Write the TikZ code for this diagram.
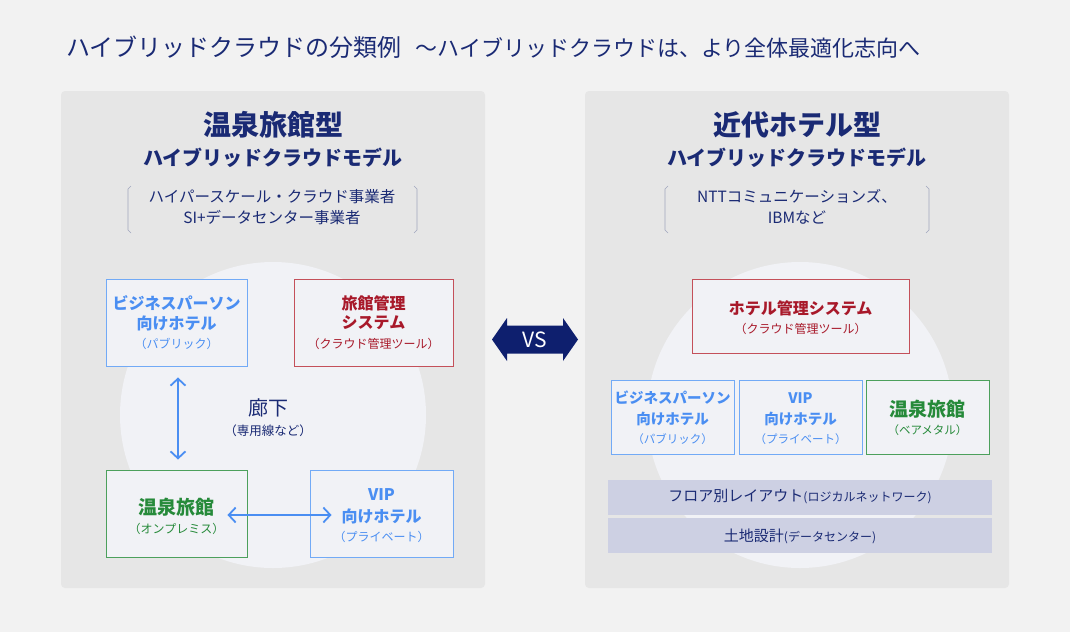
\documentclass[tikz,border=0pt]{standalone}
\usepackage{fontspec}
\setmainfont{Noto Sans CJK JP}
\usetikzlibrary{arrows.meta}
\definecolor{bg}{HTML}{F2F2F2}
\definecolor{panel}{HTML}{E6E6E6}
\definecolor{circ}{HTML}{F1F2F6}
\definecolor{navy}{HTML}{1A2A74}
\definecolor{bblue}{HTML}{72AAF6}
\definecolor{tblue}{HTML}{4A8EF2}
\definecolor{bred}{HTML}{C4505A}
\definecolor{tred}{HTML}{A8192A}
\definecolor{bgreen}{HTML}{4CA05C}
\definecolor{tgreen}{HTML}{268A3A}
\definecolor{band}{HTML}{CDD0E3}
\definecolor{vsnavy}{HTML}{0E1F6E}
\definecolor{brk}{HTML}{A0A6BE}
\newcommand\fsz[2]{\fontsize{#1}{#2}\selectfont}
\begin{document}
\begin{tikzpicture}[x=1pt,y=-1pt,
  txt/.style={inner sep=0pt, text=navy},
  boxbase/.style={draw, fill=circ, line width=0.9pt, inner sep=0pt},
  bluebox/.style={boxbase, draw=bblue},
  redbox/.style={boxbase, draw=bred},
  greenbox/.style={boxbase, draw=bgreen},
  bandbox/.style={fill=band, inner sep=0pt, minimum width=384pt, minimum height=35pt},
  arr/.style={draw=tblue, line width=1.8pt, {Straight Barb[length=7pt,width=15pt]}-{Straight Barb[length=7pt,width=15pt]}},
  brack/.style={draw=brk, line width=0.6pt},
  main/.style={inner sep=0pt, font=\bfseries\fsz{16}{18}},
  mainr/.style={inner sep=0pt, font=\bfseries\fsz{14.5}{17}},
  big/.style={inner sep=0pt, font=\bfseries\fsz{19}{21}},
  sub/.style={inner sep=0pt, font=\fsz{12}{14}},
  subr/.style={inner sep=0pt, font=\fsz{11.5}{14}}
]
\useasboundingbox (0,0) rectangle (1070,632);
\fill[bg] (0,0) rectangle (1070,632);
% panels
\fill[panel, rounded corners=4pt] (61,91) rectangle (485,588);
\fill[panel, rounded corners=4pt] (585,91) rectangle (1009,588);
\fill[circ] (273,415) circle (153pt);
\fill[circ] (800,415) circle (153pt);

% title
\node[txt, anchor=west] (title) at (66,47) {\fsz{24}{26}ハイブリッドクラウドの分類例\hspace{14pt}\fsz{22}{26}〜ハイブリッドクラウドは、より全体最適化志向へ};

% left headings
\node[txt] (lt1) at (273,125) {\bfseries\fsz{28}{30}温泉旅館型};
\node[txt] (lt2) at (273,158) {\bfseries\fsz{20}{22}ハイブリッドクラウドモデル};
\node[txt, align=center, font=\fsz{15.5}{21}] (lsub) at (272,207) {ハイパースケール・クラウド事業者\\SI+データセンター事業者};
\draw[brack] (131,186) -- (128,189) -- (128,230) -- (131,233);
\draw[brack] (414,186) -- (417,189) -- (417,230) -- (414,233);

% right headings
\node[txt] (rt1) at (797,125) {\bfseries\fsz{28}{30}近代ホテル型};
\node[txt] (rt2) at (797,158) {\bfseries\fsz{20}{22}ハイブリッドクラウドモデル};
\node[txt, align=center, font=\fsz{15.5}{21}] (rsub) at (797,207) {NTTコミュニケーションズ、\\IBMなど};
\draw[brack] (668,186) -- (665,189) -- (665,230) -- (668,233);
\draw[brack] (926,186) -- (929,189) -- (929,230) -- (926,233);

% left boxes
\node[bluebox, minimum width=141pt, minimum height=87pt] (b1) at (176.5,322.5) {};
\node[main, text=tblue] (b1a) at (176.5,303) {ビジネスパーソン};
\node[main, text=tblue] (b1b) at (176.5,323) {向けホテル};
\node[sub, text=tblue] (b1c) at (176.5,344) {（パブリック）};

\node[redbox, minimum width=159pt, minimum height=87pt] (b2) at (373.5,322.5) {};
\node[main, text=tred] (b2a) at (373.5,303) {旅館管理};
\node[main, text=tred] (b2b) at (373.5,323) {システム};
\node[sub, text=tred] (b2c) at (373.5,344) {（クラウド管理ツール）};

\node[greenbox, minimum width=141pt, minimum height=87pt] (b3) at (176.5,513.5) {};
\node[big, text=tgreen] (b3a) at (176.5,507) {温泉旅館};
\node[sub, text=tgreen] (b3b) at (176.5,529) {（オンプレミス）};

\node[bluebox, minimum width=143pt, minimum height=87pt] (b4) at (381.5,513.5) {};
\node[main, text=tblue] (b4a) at (381.5,495) {VIP};
\node[main, text=tblue] (b4b) at (381.5,516) {向けホテル};
\node[sub, text=tblue] (b4c) at (381.5,537) {（プライベート）};

\draw[arr, shorten <=11pt, shorten >=10pt] ([xshift=1.5pt]b1.south) -- ([xshift=1.5pt]b3.north);
\draw[arr] ([xshift=-20pt,yshift=-1.5pt]b3.east) -- ([xshift=22pt,yshift=-1.5pt]b4.west);

\node[txt, font=\fsz{20}{22}] (rk) at (268,408) {廊下};
\node[txt, font=\fsz{12.5}{14}] (rk2) at (268,431) {（専用線など）};

% VS
\fill[vsnavy] (492,339.5) -- (507,318) -- (507,325.5) -- (563,325.5) -- (563,318) -- (578,339.5) -- (563,361) -- (563,353.5) -- (507,353.5) -- (507,361) -- cycle;
\node[inner sep=0pt, text=white, font=\fsz{21}{23}] (vs) at (535,339.5) {VS};

% right boxes
\node[redbox, minimum width=217pt, minimum height=74pt] (r1) at (800.5,316) {};
\node[main, text=tred] (r1a) at (800.5,308) {ホテル管理システム};
\node[sub, text=tred] (r1b) at (800.5,329) {（クラウド管理ツール）};

\node[bluebox, minimum width=123pt, minimum height=74pt] (r2) at (672.5,417) {};
\node[mainr, text=tblue] (r2a) at (672.5,398) {ビジネスパーソン};
\node[mainr, text=tblue] (r2b) at (672.5,419) {向けホテル};
\node[subr, text=tblue] (r2c) at (672.5,439) {（パブリック）};

\node[bluebox, minimum width=123pt, minimum height=74pt] (r3) at (800.5,417) {};
\node[mainr, text=tblue] (r3a) at (800.5,398) {VIP};
\node[mainr, text=tblue] (r3b) at (800.5,419) {向けホテル};
\node[subr, text=tblue] (r3c) at (800.5,439) {（プライベート）};

\node[greenbox, minimum width=123pt, minimum height=74pt] (r4) at (927.5,417) {};
\node[big, text=tgreen] (r4a) at (927.5,409) {温泉旅館};
\node[subr, text=tgreen] (r4b) at (927.5,430) {（ベアメタル）};

\node[bandbox] (band1) at (800,497) {};
\node[txt] (band1t) at (800,497) {\fsz{15}{17}フロア別レイアウト\fsz{12}{17}(ロジカルネットワーク)};
\node[bandbox] (band2) at (800,535.5) {};
\node[txt] (band2t) at (800,536) {\fsz{15}{17}土地設計\fsz{12}{17}(データセンター)};
\end{tikzpicture}
\end{document}
